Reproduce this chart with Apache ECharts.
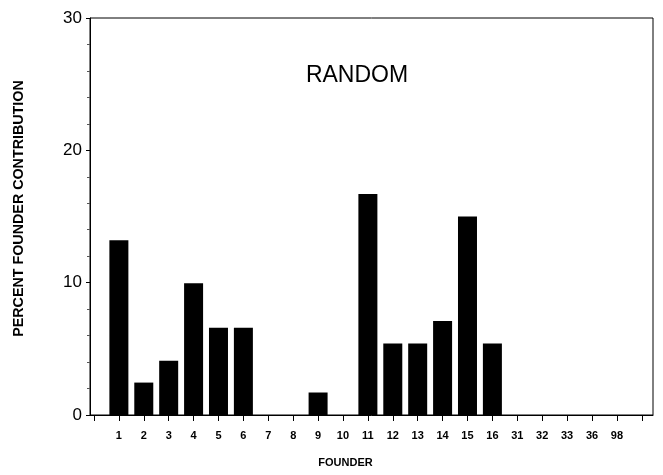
<!DOCTYPE html>
<html>
<head>
<meta charset="utf-8">
<script src="https://cdn.jsdelivr.net/npm/echarts@6/dist/echarts.min.js"></script>
<style>html,body{margin:0;padding:0;background:#fff}#c{width:663px;height:475px}</style>
</head>
<body>
<div id="c"></div>
<script>
const founders = ['1','2','3','4','5','6','7','8','9','10','11','12','13','14','15','16','31','32','33','36','98'];
const contribution = [13.2, 2.45, 4.1, 9.95, 6.6, 6.6, 0, 0, 1.7, 0, 16.7, 5.4, 5.4, 7.1, 15.0, 5.4, 0, 0, 0, 0, 0];
const yTicks = [0, 10, 20, 30];
const titleText = 'RANDOM';

const chart = echarts.init(document.getElementById('c'), null, {renderer: 'canvas'});
const FONT = '"Liberation Sans", Arial, Helvetica, sans-serif';
const labelPositions = founders.map((_, i) => i + 1);
const tickPositions = [];
for (let i = 0; i <= founders.length + 1; i++) tickPositions.push(i);

chart.setOption({
  animation: false,
  backgroundColor: '#fff',
  title: {
    text: titleText, left: 352, top: 59, textAlign: 'center',
    textStyle: {fontFamily: FONT, fontSize: 23, fontWeight: 'normal', color: '#000'}
  },
  grid: {left: 90, right: 10, top: 18, bottom: 60, show: true, borderColor: '#000', borderWidth: 1, backgroundColor: 'transparent'},
  xAxis: {
    type: 'value', min: -0.16, max: 22.45,
    name: 'FOUNDER', nameLocation: 'middle', nameGap: 42,
    nameTextStyle: {fontFamily: FONT, fontSize: 11, fontWeight: 'bold', color: '#000', padding: [0, 52, 0, 0]},
    axisLine: {show: true, onZero: false, lineStyle: {color: '#000', width: 1}},
    axisTick: {show: true, customValues: tickPositions, length: 6, lineStyle: {color: '#000'}},
    axisLabel: {customValues: labelPositions, formatter: v => founders[Math.round(v) - 1] || '', margin: 15,
      fontFamily: FONT, fontSize: 11, fontWeight: 'bold', color: '#000'},
    splitLine: {show: false}
  },
  yAxis: {
    type: 'value', min: yTicks[0], max: yTicks[yTicks.length - 1], interval: 10,
    name: 'PERCENT FOUNDER CONTRIBUTION', nameLocation: 'middle', nameGap: 64, nameRotate: 90,
    nameTextStyle: {fontFamily: FONT, fontSize: 14.3, fontWeight: 'bold', color: '#000', padding: [0, 0, 0, 16]},
    axisLine: {show: true, onZero: false, lineStyle: {color: '#000', width: 1}},
    axisTick: {show: true, length: 4, lineStyle: {color: '#000'}},
    minorTick: {show: true, splitNumber: 5, length: 3, lineStyle: {color: '#555'}},
    axisLabel: {margin: 8, fontFamily: FONT, fontSize: 17, color: '#000'},
    splitLine: {show: false}
  },
  series: [{
    type: 'bar',
    data: contribution.map((v, i) => [i + 1, v]),
    barWidth: 19,
    itemStyle: {color: '#000'}
  }]
});
</script>
</body>
</html>
